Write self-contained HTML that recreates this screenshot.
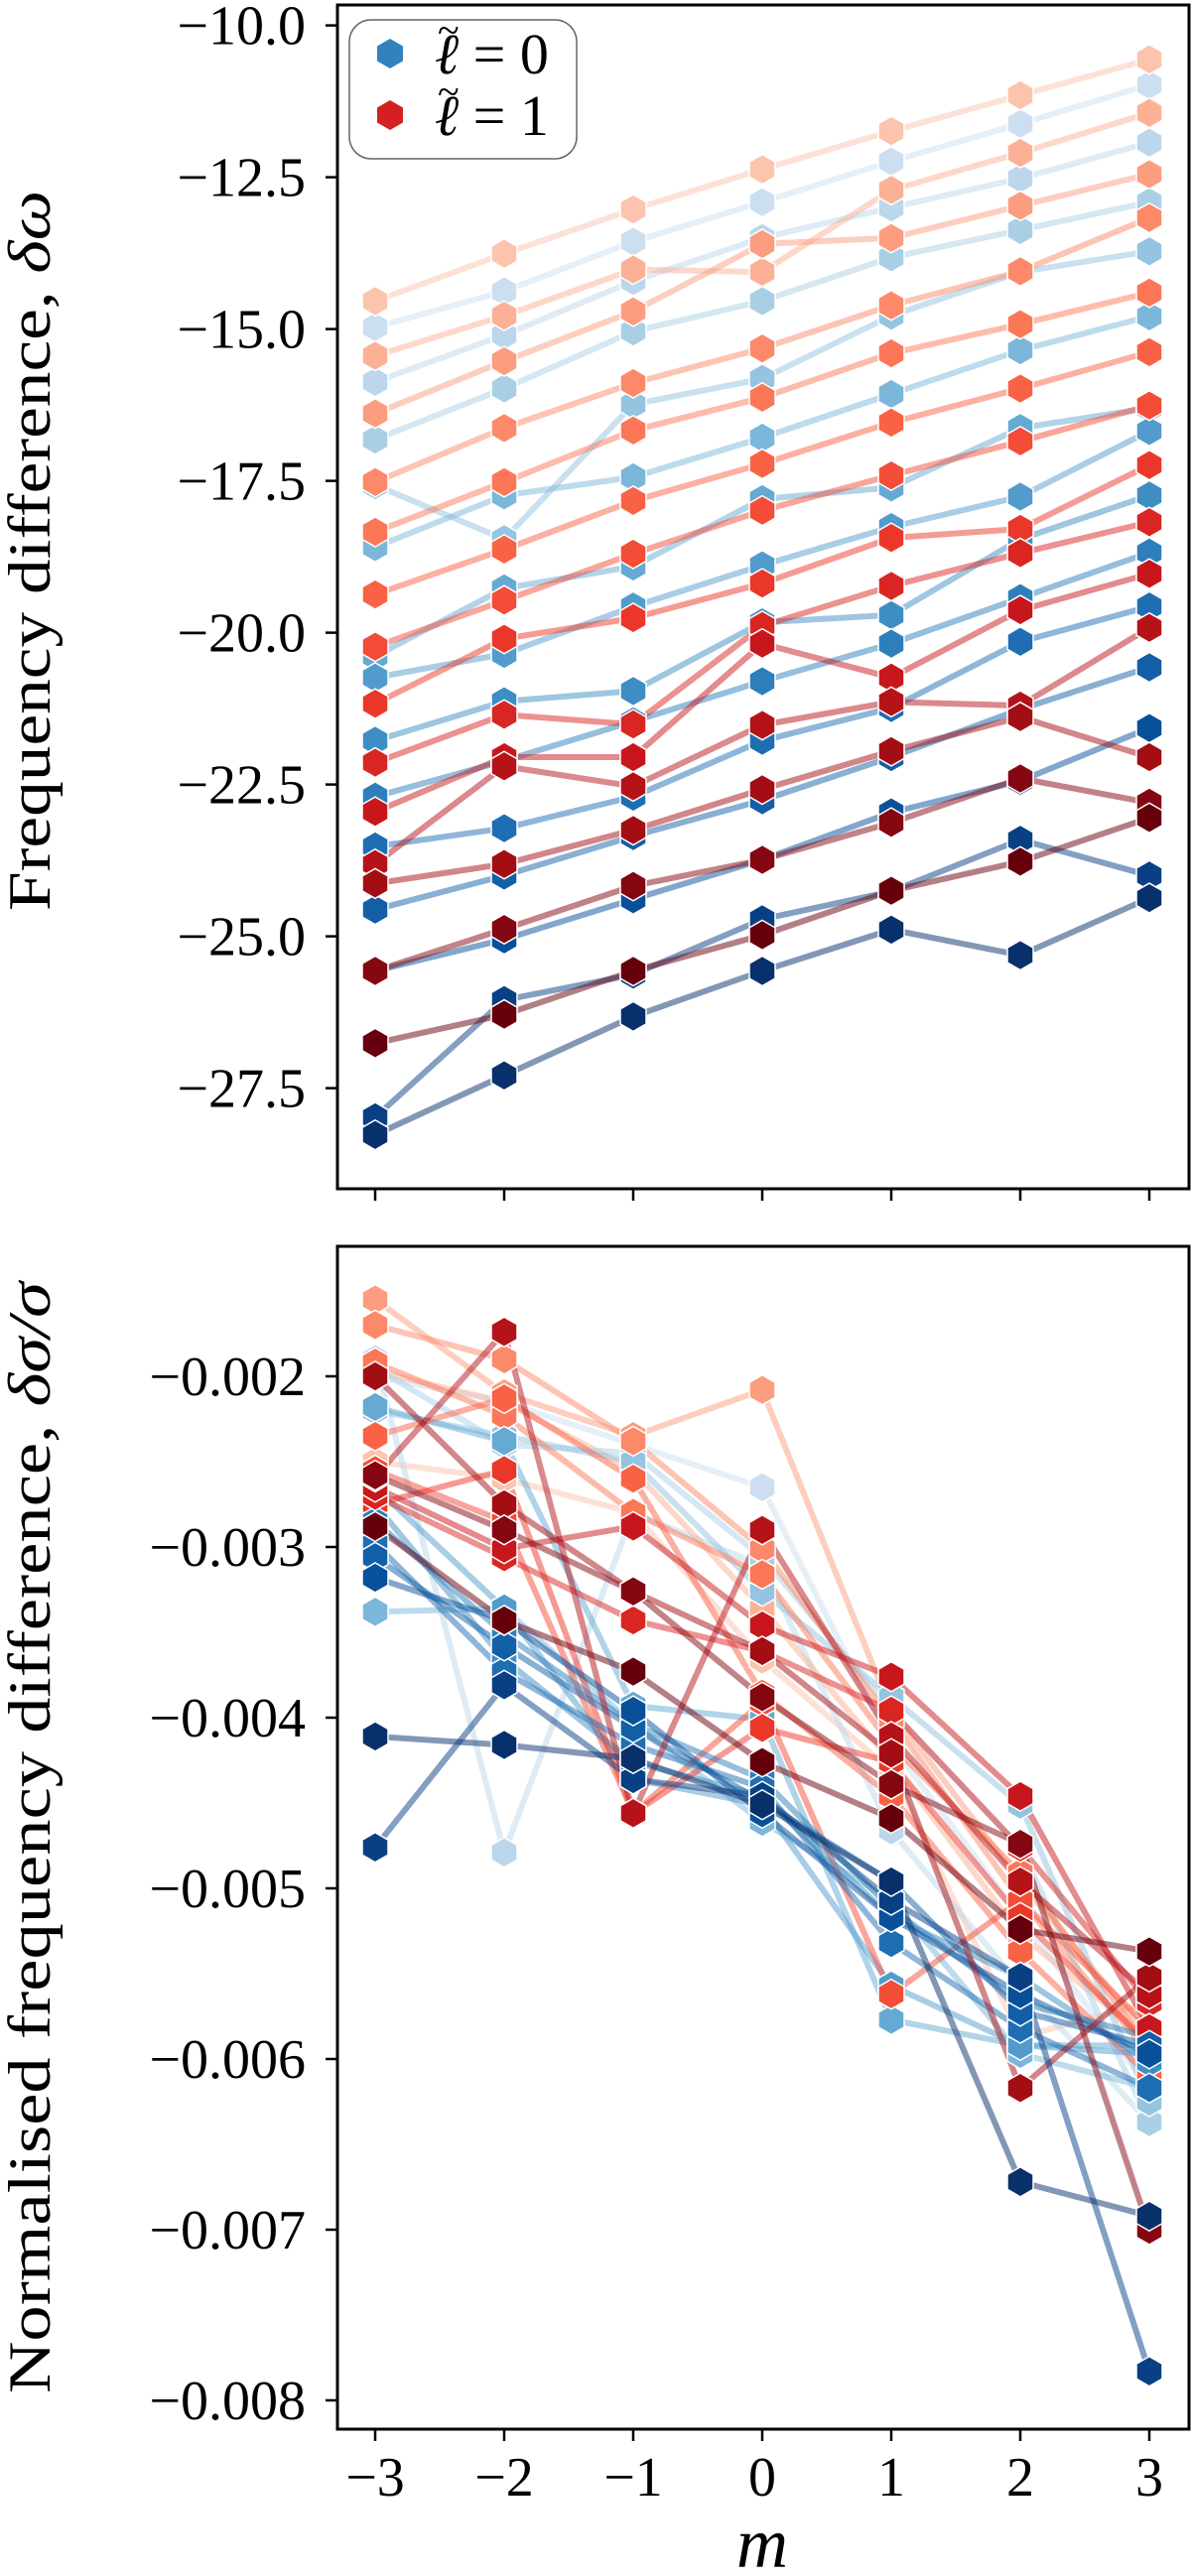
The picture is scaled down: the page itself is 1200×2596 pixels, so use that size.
<!DOCTYPE html>
<html><head><meta charset="utf-8"><style>
html,body{margin:0;padding:0;background:#fff}
svg{display:block}
text{font-family:"Liberation Serif","DejaVu Serif",serif;fill:#000}
</style></head><body>
<svg id="chart" width="1200" height="2596" viewBox="0 0 1200 2596" xmlns="http://www.w3.org/2000/svg">
<rect width="1200" height="2596" fill="#fff"/>
<g id="top"></g>
<g id="bot"></g>
<text transform="translate(50,555) rotate(-90)" text-anchor="middle" font-size="60" textLength="726" lengthAdjust="spacingAndGlyphs">Frequency difference, <tspan font-style="italic">δω</tspan></text>
<text transform="translate(50,1852) rotate(-90)" text-anchor="middle" font-size="60" textLength="1120" lengthAdjust="spacingAndGlyphs">Normalised frequency difference, <tspan font-style="italic">δσ/σ</tspan></text>
<text x="768" y="2587" text-anchor="middle" font-size="72" font-style="italic">m</text>
<g>
<rect x="352" y="20" width="229" height="140" rx="22" fill="#fff" stroke="#666" stroke-width="1.5"/>
<polygon points="393,39 406,46.5 406,61.5 393,69 380,61.5 380,46.5" fill="#3182bd"/>
<text x="438" y="74" font-size="58"><tspan font-style="italic">ℓ</tspan> = 0</text>
<text x="441" y="44" font-size="40">~</text>
<polygon points="393,101 406,108.5 406,123.5 393,131 380,123.5 380,108.5" fill="#d42020"/>
<text x="438" y="136" font-size="58"><tspan font-style="italic">ℓ</tspan> = 1</text>
<text x="441" y="106" font-size="40">~</text>
</g>
</svg>
<script>
const mValues=[-3,-2,-1,0,1,2,3];
const topTicks=[-10,-12.5,-15,-17.5,-20,-22.5,-25,-27.5];
const botTicks=[-0.002,-0.003,-0.004,-0.005,-0.006,-0.007,-0.008];
// top panel, lightest first
const topRed=[
[-14.54,-13.76,-13.03,-12.37,-11.74,-11.15,-10.56],
[-15.44,-14.78,-14.02,-14.06,-12.71,-12.10,-11.44],
[-16.39,-15.53,-14.71,-13.60,-13.50,-12.97,-12.45],
[-17.52,-16.63,-15.89,-15.32,-14.61,-14.05,-13.17],
[-18.34,-17.52,-16.67,-16.13,-15.40,-14.92,-14.40],
[-19.37,-18.63,-17.83,-17.22,-16.54,-15.98,-15.38],
[-20.23,-19.47,-18.70,-17.99,-17.41,-16.85,-16.26],
[-21.17,-20.10,-19.76,-19.19,-18.44,-18.29,-17.24],
[-22.14,-21.35,-21.51,-19.89,-19.23,-18.69,-18.18],
[-22.95,-22.05,-22.05,-20.18,-20.74,-19.63,-19.03],
[-23.81,-22.20,-22.53,-21.52,-21.14,-21.20,-19.92],
[-24.13,-23.81,-23.25,-22.58,-21.95,-21.39,-22.05],
[-25.57,-24.88,-24.17,-23.74,-23.13,-22.40,-22.80],
[-26.76,-26.29,-25.57,-24.98,-24.25,-23.77,-23.05]];
const topBlue=[
[-14.97,-14.38,-13.56,-12.91,-12.24,-11.62,-10.98],
[-15.87,-15.10,-14.21,-13.50,-13.00,-12.52,-11.93],
[-16.82,-15.98,-15.04,-14.54,-13.82,-13.37,-12.91],
[-17.57,-18.46,-16.24,-15.82,-14.78,-14.06,-13.72],
[-18.59,-17.74,-17.44,-16.79,-16.07,-15.35,-14.79],
[-20.39,-19.27,-18.91,-17.80,-17.61,-16.63,-16.30],
[-20.74,-20.35,-19.57,-18.89,-18.26,-17.76,-16.68],
[-21.78,-21.13,-20.96,-19.83,-19.71,-18.46,-17.74],
[-22.70,-22.11,-21.46,-20.80,-20.18,-19.43,-18.68],
[-23.52,-23.22,-22.70,-21.78,-21.24,-20.15,-19.57],
[-24.56,-24.00,-23.35,-22.76,-22.05,-21.26,-20.57],
[-25.57,-25.05,-24.39,-23.74,-22.96,-22.44,-21.57],
[-27.98,-26.05,-25.63,-24.72,-24.26,-23.41,-24.00],
[-28.27,-27.29,-26.32,-25.57,-24.89,-25.31,-24.37]];
// bottom panel (units of 1e-3), darkest first
const botBlue=[
[-4.11,-4.16,-4.24,-4.51,-4.96,-6.72,-6.92],
[-4.76,-3.81,-4.36,-4.46,-5.07,-5.52,-7.83],
[-3.18,-3.43,-3.96,-4.56,-5.17,-5.62,-5.97],
[-3.06,-3.58,-4.06,-4.49,-4.96,-5.72,-5.92],
[-2.98,-3.73,-4.16,-4.41,-5.32,-5.82,-6.17],
[-2.85,-3.51,-4.04,-4.36,-5.12,-5.67,-5.87],
[-2.75,-3.66,-4.26,-4.46,-5.17,-5.52,-6.02],
[-2.65,-3.36,-4.36,-4.51,-5.57,-5.92,-5.97],
[-2.18,-2.38,-3.93,-4.01,-5.77,-5.92,-5.92],
[-3.38,-3.36,-4.04,-4.61,-5.07,-5.97,-6.17],
[-2.20,-2.35,-2.50,-3.26,-3.88,-4.51,-6.25],
[-1.95,-2.40,-2.45,-3.06,-3.96,-4.76,-6.37],
[-1.90,-4.79,-2.80,-3.11,-4.66,-5.57,-6.37],
[-2.00,-2.15,-2.40,-2.65,-4.16,-5.17,-6.17]];
const botRed=[
[-2.88,-3.43,-3.73,-4.26,-4.59,-5.24,-5.37],
[-2.58,-2.90,-3.26,-3.88,-4.39,-4.74,-7.00],
[-2.00,-2.75,-3.26,-3.61,-4.21,-6.17,-5.52],
[-2.59,-1.74,-4.56,-2.90,-4.11,-4.96,-5.62],
[-2.65,-3.01,-2.88,-3.46,-3.76,-4.46,-5.82],
[-2.70,-3.06,-3.43,-3.61,-3.96,-4.76,-5.67],
[-2.75,-2.55,-4.56,-4.06,-4.26,-5.17,-5.92],
[-2.55,-2.85,-4.56,-3.91,-5.62,-5.07,-5.82],
[-2.35,-2.13,-2.60,-3.86,-4.46,-5.37,-6.10],
[-1.92,-2.23,-2.80,-3.16,-4.16,-4.91,-5.94],
[-1.70,-1.90,-2.38,-3.01,-4.01,-5.07,-5.97],
[-1.55,-2.10,-2.35,-2.08,-3.96,-4.96,-5.87],
[-1.97,-2.15,-2.55,-3.36,-4.26,-5.27,-5.89],
[-2.50,-2.60,-2.80,-3.66,-4.31,-5.87,-5.67]];

const NS='http://www.w3.org/2000/svg';
function mk(tag,attrs,parent){const e=document.createElementNS(NS,tag);for(const k in attrs)e.setAttribute(k,attrs[k]);parent.appendChild(e);return e;}
function hexC(a,b,t){const p=s=>[1,3,5].map(i=>parseInt(s.substr(i,2),16));const A=p(a),B=p(b);return 'rgb('+A.map((v,i)=>Math.round(v+(B[i]-v)*t)).join(',')+')';}
function cmap(stops,t){const n=stops.length-1;const f=t*n;const i=Math.min(n-1,Math.floor(f));return hexC(stops[i],stops[i+1],f-i);}
const BL=['#f7fbff','#deebf7','#c6dbef','#9ecae1','#6baed6','#4292c6','#2171b5','#08519c','#08306b'];
const RD=['#fff5f0','#fee0d2','#fcbba1','#fc9272','#fb6a4a','#ef3b2c','#cb181d','#a50f15','#67000d'];
function col(stops,i){return cmap(stops,0.22+0.78*i/13);} // i=0 lightest
const xScale=m=>378+(m+3)*130;

function hex(g,x,y,fill){const r=15,w=13;
 const p=mk('polygon',{points:[[x,y-r],[x+w,y-r/2],[x+w,y+r/2],[x,y+r],[x-w,y+r/2],[x-w,y-r/2]].map(a=>a.join(',')).join(' '),fill:fill,stroke:'#fff','stroke-width':1.5},g);
 
 }

function panel(g,top,bot,yScale,ticks,fmt,series,showX){
 series.forEach((s,si)=>{
  const sg=mk('g',{},g);
  
  
  const pts=s.vals.map((v,i)=>xScale(mValues[i])+','+yScale(v)).join(' ');
  const l=mk('polyline',{points:pts,fill:'none',stroke:s.color,'stroke-width':6,'stroke-opacity':0.5,'stroke-linejoin':'round'},sg);
  
  
 });
 series.forEach(s=>{s.vals.forEach((v,i)=>hex(g,xScale(mValues[i]),yScale(v),s.color));});
 const fr=mk('rect',{x:340,y:top,width:858,height:bot-top,fill:'none',stroke:'#000','stroke-width':3},g);
 
 
 ticks.forEach(t=>{const y=yScale(t);
  const tl=mk('line',{x1:328,x2:340,y1:y,y2:y,stroke:'#000','stroke-width':2.5},g);
  
  
  const tx=mk('text',{x:308,y:y+19,'text-anchor':'end','font-size':56},g);
  
  
  tx.textContent=fmt(t);});
 mValues.forEach(m=>{const x=xScale(m);
  const tl=mk('line',{x1:x,x2:x,y1:bot,y2:bot+12,stroke:'#000','stroke-width':2.5},g);
  
  
  if(showX){const tx=mk('text',{x:x,y:2515,'text-anchor':'middle','font-size':56},g);
   
   
   tx.textContent=(m<0?'\u2212':'')+Math.abs(m);}});
}
const minus=s=>s.replace('-','\u2212');
const yTop=v=>25.6+(-10-v)*61.2;
const topSeries=[];
topBlue.forEach((v,i)=>topSeries.push({vals:v,color:col(BL,i),name:'l0-series-'+i}));
topRed.forEach((v,i)=>topSeries.push({vals:v,color:col(RD,i),name:'l1-series-'+i}));
const topOrd=[];for(let i=0;i<14;i++){topOrd.push(topSeries[i]);topOrd.push(topSeries[14+i]);}
panel(document.getElementById('top'),5,1198,yTop,topTicks,t=>minus(t.toFixed(1)),topOrd,false);
const yBot=v=>1387+(-2-v)*172;
const botSeries=[];
botBlue.forEach((v,i)=>botSeries.push({vals:v,color:col(BL,13-i),name:'l0-series-'+i}));
botRed.forEach((v,i)=>botSeries.push({vals:v,color:col(RD,13-i),name:'l1-series-'+i}));
const botOrd=[];for(let i=13;i>=0;i--){botOrd.push(botSeries[i]);botOrd.push(botSeries[14+i]);}
panel(document.getElementById('bot'),1256,2448,v=>yBot(v*1000),botTicks,t=>minus(t.toFixed(3)),botOrd.map(s=>({vals:s.vals.map(v=>v/1000),color:s.color,name:s.name})),true);
</script>
</body></html>
